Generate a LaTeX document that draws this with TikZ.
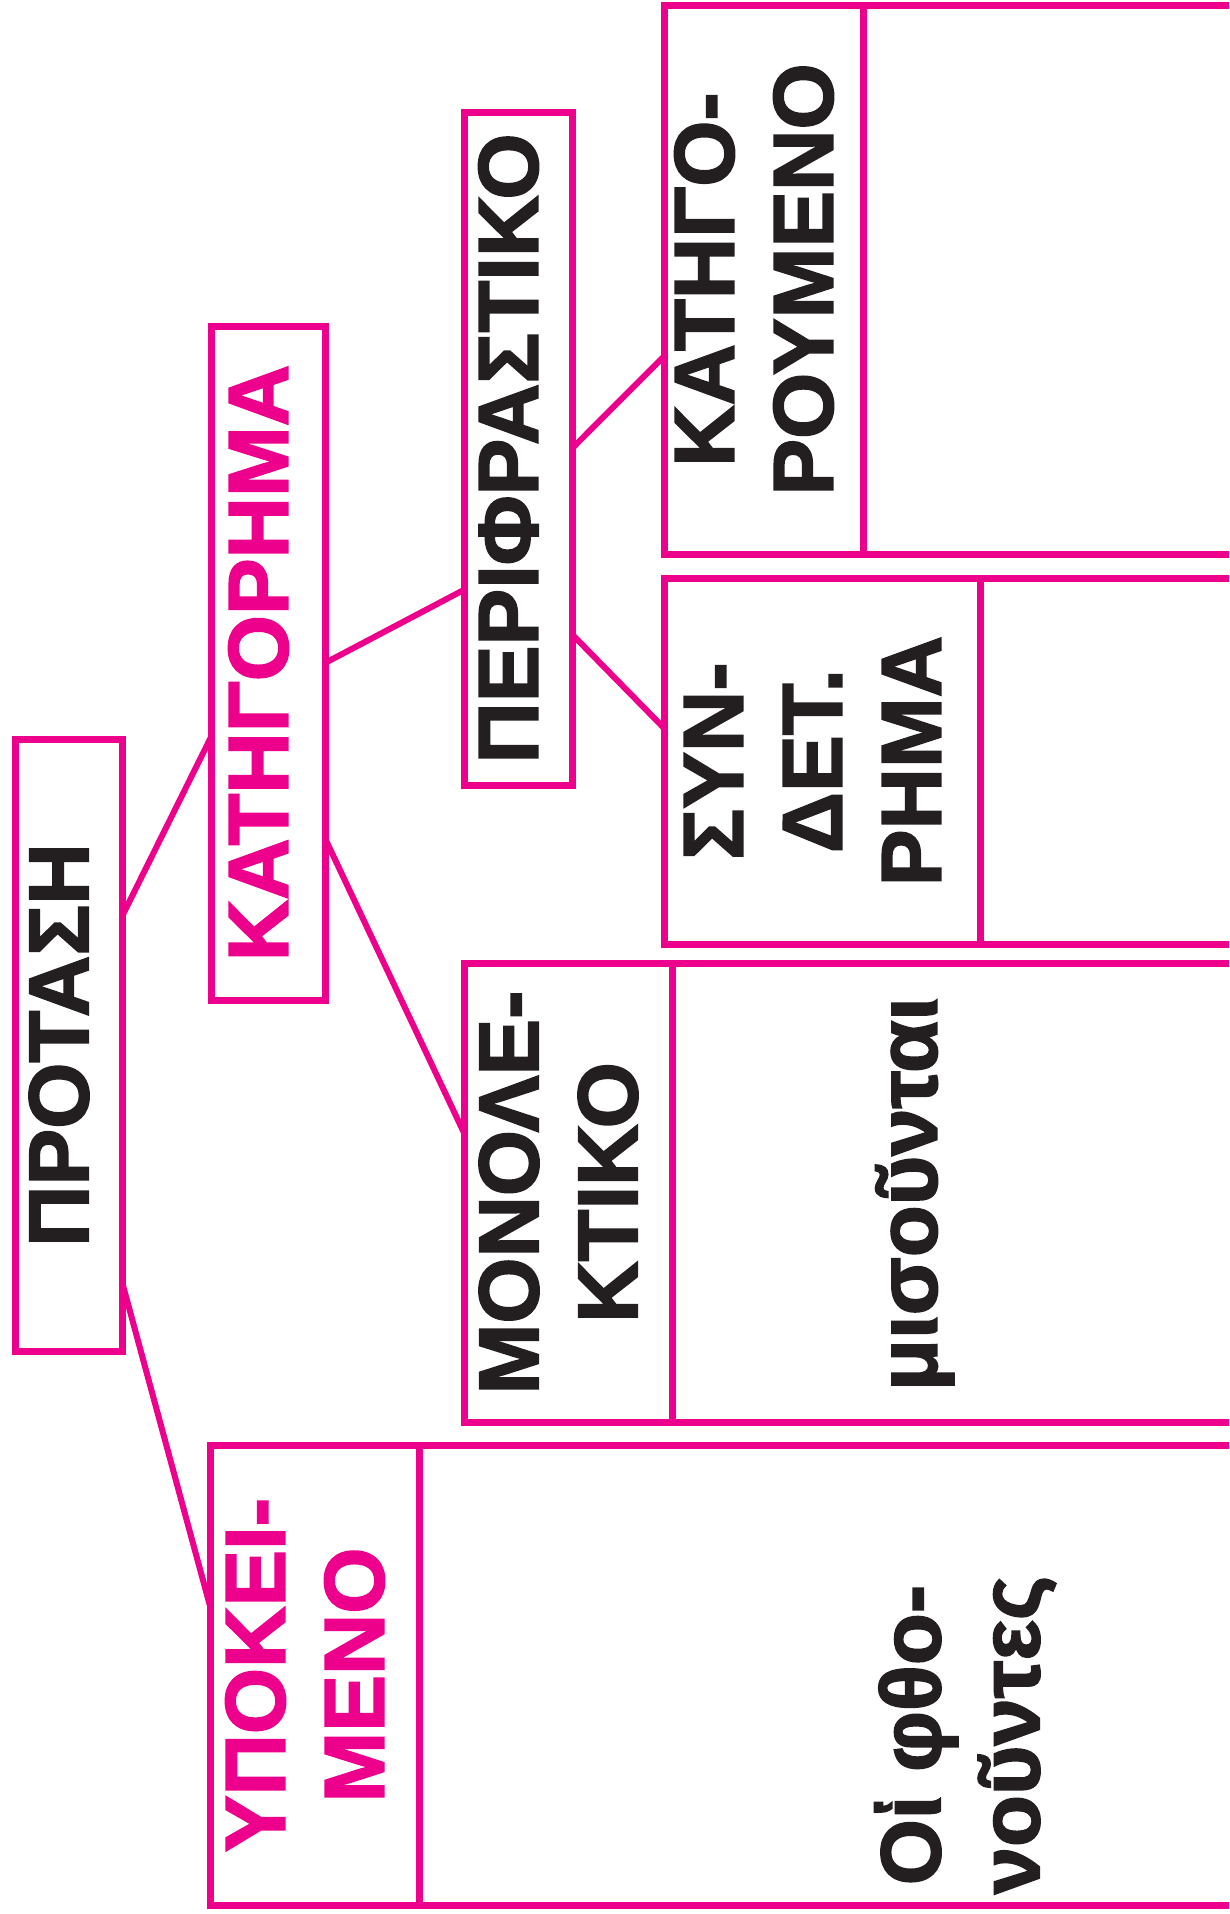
\documentclass[tikz,border=0pt]{standalone}
\usepackage{fontspec}
\usepackage{graphicx}
\setmainfont{Liberation Sans}[BoldFont={Liberation Sans Bold},BoldFeatures={FakeBold=2}]
\usepackage{tikz}
\usetikzlibrary{calc,positioning}
\definecolor{InkMagenta}{RGB}{236,0,140}
\definecolor{InkBlack}{RGB}{35,31,32}
\newcommand{\vlabel}[1]{\rotatebox{90}{\fontsize{85}{99}\selectfont\bfseries\begin{tabular}{@{}c@{}}#1\end{tabular}}}

\begin{document}
\begin{tikzpicture}[x=1pt,y=-1pt,
  frame/.style={draw=InkMagenta,line width=7pt},
  lbl/.style={frame,rectangle,inner sep=0pt,outer sep=0pt,text=InkBlack},
  link/.style={InkMagenta,line width=6pt}]
  \useasboundingbox (0,0) rectangle (1229,1914);
  \clip (0,0) rectangle (1229,1914);
  % label boxes
  \node[lbl,minimum width=107,minimum height=612] (prot) at (68.5,1045) {\vlabel{ΠΡΟΤΑΣΗ}};
  \node[lbl,text=InkMagenta,minimum width=114,minimum height=674] (katg) at (268,663) {\vlabel{ΚΑΤΗΓΟΡΗΜΑ}};
  \node[lbl,minimum width=108,minimum height=673] (peri) at (518,448.5) {\vlabel{ΠΕΡΙΦΡΑΣΤΙΚΟ}};
  \node[lbl,minimum width=199,minimum height=549] (katr) at (763.5,279.5) {\vlabel{ΚΑΤΗΓΟ-\\ΡΟΥΜΕΝΟ}};
  \node[lbl,minimum width=316,minimum height=366] (synd) at (822,761) {\vlabel{ΣΥΝ-\\ΔΕΤ.\\ΡΗΜΑ}};
  \node[lbl,minimum width=208,minimum height=459] (mono) at (568,1192.5) {\vlabel{ΜΟΝΟΛΕ-\\ΚΤΙΚΟ}};
  \node[lbl,text=InkMagenta,minimum width=209,minimum height=460] (ypok) at (314.5,1675) {\vlabel{ΥΠΟΚΕΙ-\\ΜΕΝΟ}};
  % open boxes on the right
  \foreach \b in {katr,synd,mono,ypok}
    \draw[frame] (\b.north east) rectangle ([xshift=900pt]\b.south east);
  % words in the open boxes
  \node[text=InkBlack,inner sep=0pt] (mono-txt) at (917,1194) {\vlabel{μισοῦνται}};
  \node[text=InkBlack,inner sep=0pt] (ypok-txt) at (970,1735) {\vlabel{Οἱ φθο-\\νοῦντες}};
  % connectors
  \draw[link] ($(prot.north east)!0.29!(prot.south east)$) -- ($(katg.north west)!0.61!(katg.south west)$);
  \draw[link] ($(prot.north east)!0.887!(prot.south east)$) -- ($(ypok.north west)!0.35!(ypok.south west)$);
  \draw[link] (katg.east) -- ($(peri.north west)!0.71!(peri.south west)$);
  \draw[link] ($(katg.north east)!0.76!(katg.south east)$) -- ($(mono.north west)!0.37!(mono.south west)$);
  \draw[link] (peri.east) -- ($(katr.north west)!0.64!(katr.south west)$);
  \draw[link] ($(peri.north east)!0.776!(peri.south east)$) -- ($(synd.north west)!0.41!(synd.south west)$);
\end{tikzpicture}
\end{document}
